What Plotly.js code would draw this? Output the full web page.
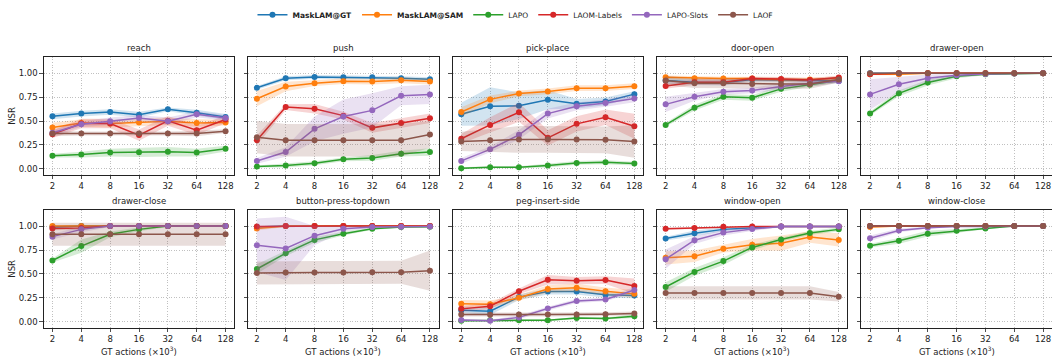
<!DOCTYPE html>
<html>
<head>
<meta charset="utf-8">
<script src="https://cdn.plot.ly/plotly-3.0.1.min.js"></script>
<style>html,body{margin:0;padding:0;background:#fff;}#chart{width:1052px;height:356px;}</style>
</head>
<body>
<div id="chart"></div>
<script>
const xs = [2, 4, 8, 16, 32, 64, 128];
const methods = ['<b>MaskLAM@GT</b>', '<b>MaskLAM@SAM</b>', 'LAPO', 'LAOM-Labels', 'LAPO-Slots', 'LAOF'];
const colors = ['#1f77b4', '#ff7f0e', '#2ca02c', '#d62728', '#9467bd', '#8c564b'];
const bandColors = ['rgba(31,119,180,0.2)', 'rgba(255,127,14,0.2)', 'rgba(44,160,44,0.2)', 'rgba(214,39,40,0.2)', 'rgba(148,103,189,0.2)', 'rgba(140,86,75,0.2)'];
const tasks = ['reach', 'push', 'pick-place', 'door-open', 'drawer-open', 'drawer-close', 'button-press-topdown', 'peg-insert-side', 'window-open', 'window-close'];

// rows: MaskLAM@GT, MaskLAM@SAM, LAPO, LAOM-Labels, LAPO-Slots, LAOF
const reachMean = [
  [0.55, 0.578, 0.595, 0.567, 0.623, 0.588, 0.543],
  [0.433, 0.48, 0.474, 0.484, 0.498, 0.48, 0.484],
  [0.138, 0.149, 0.17, 0.173, 0.18, 0.17, 0.211],
  [0.363, 0.474, 0.474, 0.353, 0.502, 0.405, 0.516],
  [0.377, 0.467, 0.498, 0.533, 0.498, 0.571, 0.533],
  [0.37, 0.37, 0.37, 0.37, 0.37, 0.37, 0.394]
];
const reachSd = [
  [0.03, 0.03, 0.03, 0.03, 0.02, 0.03, 0.03],
  [0.05, 0.04, 0.04, 0.04, 0.04, 0.04, 0.03],
  [0.02, 0.03, 0.04, 0.05, 0.05, 0.04, 0.03],
  [0.04, 0.05, 0.05, 0.06, 0.05, 0.05, 0.04],
  [0.03, 0.03, 0.04, 0.03, 0.04, 0.03, 0.03],
  [0.03, 0.02, 0.02, 0.02, 0.02, 0.03, 0.02]
];
const pushMean = [
  [0.848, 0.948, 0.962, 0.958, 0.958, 0.948, 0.938],
  [0.734, 0.862, 0.896, 0.917, 0.913, 0.927, 0.913],
  [0.024, 0.035, 0.059, 0.10, 0.114, 0.159, 0.176],
  [0.30, 0.647, 0.63, 0.557, 0.429, 0.481, 0.529],
  [0.083, 0.176, 0.419, 0.547, 0.612, 0.765, 0.779],
  [0.332, 0.30, 0.30, 0.30, 0.30, 0.30, 0.36]
];
const pushSd = [
  [0.02, 0.02, 0.02, 0.02, 0.02, 0.02, 0.02],
  [0.08, 0.05, 0.03, 0.03, 0.03, 0.03, 0.03],
  [0.01, 0.02, 0.02, 0.02, 0.03, 0.03, 0.04],
  [0.05, 0.03, 0.05, 0.04, 0.05, 0.05, 0.05],
  [0.03, 0.05, 0.13, 0.18, 0.18, 0.1, 0.1],
  [0.17, 0.17, 0.17, 0.17, 0.17, 0.17, 0.14]
];
const pickMean = [
  [0.571, 0.654, 0.661, 0.723, 0.682, 0.706, 0.782],
  [0.595, 0.727, 0.789, 0.81, 0.844, 0.844, 0.865],
  [0.007, 0.017, 0.017, 0.035, 0.062, 0.069, 0.055],
  [0.315, 0.46, 0.592, 0.325, 0.471, 0.54, 0.446],
  [0.083, 0.204, 0.356, 0.578, 0.654, 0.689, 0.737],
  [0.287, 0.30, 0.308, 0.308, 0.308, 0.304, 0.287]
];
const pickSd = [
  [0.12, 0.2, 0.14, 0.1, 0.05, 0.04, 0.03],
  [0.05, 0.04, 0.03, 0.03, 0.03, 0.03, 0.03],
  [0.01, 0.01, 0.01, 0.02, 0.02, 0.02, 0.02],
  [0.05, 0.08, 0.1, 0.08, 0.08, 0.08, 0.13],
  [0.03, 0.03, 0.05, 0.05, 0.04, 0.04, 0.04],
  [0.1, 0.12, 0.14, 0.14, 0.14, 0.14, 0.17]
];
const doorMean = [
  [0.924, 0.907, 0.903, 0.934, 0.93, 0.924, 0.92],
  [0.958, 0.948, 0.945, 0.945, 0.934, 0.934, 0.948],
  [0.46, 0.64, 0.754, 0.744, 0.837, 0.879, 0.924],
  [0.868, 0.907, 0.907, 0.945, 0.941, 0.931, 0.955],
  [0.675, 0.754, 0.806, 0.82, 0.862, 0.896, 0.917],
  [0.924, 0.896, 0.896, 0.889, 0.889, 0.889, 0.934]
];
const doorSd = [
  [0.03, 0.03, 0.03, 0.02, 0.02, 0.02, 0.02],
  [0.02, 0.02, 0.02, 0.02, 0.02, 0.02, 0.02],
  [0.02, 0.03, 0.03, 0.03, 0.03, 0.02, 0.02],
  [0.03, 0.03, 0.03, 0.02, 0.02, 0.02, 0.02],
  [0.08, 0.04, 0.03, 0.03, 0.03, 0.03, 0.02],
  [0.05, 0.05, 0.05, 0.05, 0.05, 0.05, 0.03]
];
const drawerOpenMean = [
  [1.0, 1.0, 1.0, 1.0, 1.0, 1.0, 1.0],
  [0.99, 0.99, 1.0, 1.0, 1.0, 1.0, 1.0],
  [0.579, 0.79, 0.903, 0.969, 0.99, 0.997, 1.0],
  [0.99, 1.0, 1.0, 1.0, 1.0, 1.0, 1.0],
  [0.779, 0.886, 0.948, 0.979, 0.993, 0.997, 1.0],
  [1.0, 1.0, 1.0, 1.0, 1.0, 1.0, 1.0]
];
const drawerOpenSd = [
  [0.005, 0.005, 0.005, 0.005, 0.005, 0.005, 0.0],
  [0.01, 0.01, 0.005, 0.005, 0.0, 0.0, 0.0],
  [0.02, 0.03, 0.03, 0.02, 0.01, 0.005, 0.0],
  [0.01, 0.005, 0.005, 0.0, 0.0, 0.0, 0.0],
  [0.16, 0.08, 0.04, 0.02, 0.01, 0.005, 0.0],
  [0.005, 0.005, 0.0, 0.0, 0.0, 0.0, 0.0]
];
const drawerCloseMean = [
  [0.99, 1.0, 1.0, 1.0, 1.0, 1.0, 1.0],
  [1.0, 1.0, 1.0, 1.0, 1.0, 1.0, 1.0],
  [0.64, 0.791, 0.914, 0.966, 1.0, 1.0, 1.0],
  [0.976, 0.98, 1.0, 1.0, 1.0, 1.0, 1.0],
  [0.89, 0.966, 1.0, 1.0, 1.0, 1.0, 1.0],
  [0.914, 0.914, 0.914, 0.914, 0.914, 0.914, 0.914]
];
const drawerCloseSd = [
  [0.01, 0.005, 0.0, 0.0, 0.0, 0.0, 0.0],
  [0.01, 0.01, 0.0, 0.0, 0.0, 0.0, 0.0],
  [0.02, 0.07, 0.03, 0.02, 0.01, 0.0, 0.0],
  [0.02, 0.02, 0.0, 0.0, 0.0, 0.0, 0.0],
  [0.03, 0.03, 0.01, 0.0, 0.0, 0.0, 0.0],
  [0.12, 0.12, 0.12, 0.12, 0.12, 0.12, 0.12]
];
const buttonMean = [
  [0.99, 1.0, 1.0, 1.0, 1.0, 1.0, 1.0],
  [0.975, 1.0, 1.0, 1.0, 1.0, 1.0, 1.0],
  [0.551, 0.716, 0.856, 0.921, 0.973, 0.99, 0.993],
  [0.997, 1.0, 1.0, 1.0, 1.0, 1.0, 1.0],
  [0.80, 0.767, 0.90, 0.973, 0.99, 0.993, 0.997],
  [0.51, 0.514, 0.514, 0.514, 0.517, 0.517, 0.534]
];
const buttonSd = [
  [0.01, 0.005, 0.0, 0.0, 0.0, 0.0, 0.0],
  [0.02, 0.01, 0.0, 0.0, 0.0, 0.0, 0.0],
  [0.05, 0.03, 0.03, 0.02, 0.01, 0.01, 0.01],
  [0.005, 0.005, 0.0, 0.0, 0.0, 0.0, 0.0],
  [0.28, 0.33, 0.1, 0.03, 0.01, 0.01, 0.0],
  [0.12, 0.12, 0.12, 0.12, 0.12, 0.12, 0.21]
];
const pegMean = [
  [0.12, 0.11, 0.257, 0.315, 0.315, 0.281, 0.274],
  [0.188, 0.182, 0.25, 0.342, 0.356, 0.318, 0.291],
  [0.01, 0.014, 0.014, 0.014, 0.038, 0.034, 0.058],
  [0.134, 0.161, 0.318, 0.438, 0.428, 0.435, 0.373],
  [0.017, 0.01, 0.045, 0.137, 0.216, 0.233, 0.332],
  [0.075, 0.072, 0.075, 0.075, 0.075, 0.079, 0.086]
];
const pegSd = [
  [0.03, 0.04, 0.03, 0.03, 0.03, 0.03, 0.03],
  [0.04, 0.04, 0.03, 0.04, 0.04, 0.04, 0.04],
  [0.01, 0.01, 0.01, 0.01, 0.01, 0.01, 0.02],
  [0.03, 0.03, 0.03, 0.05, 0.04, 0.04, 0.08],
  [0.01, 0.01, 0.02, 0.02, 0.02, 0.02, 0.03],
  [0.02, 0.02, 0.02, 0.02, 0.02, 0.02, 0.02]
];
const windowOpenMean = [
  [0.87, 0.925, 0.966, 0.983, 0.997, 0.997, 0.997],
  [0.668, 0.685, 0.764, 0.805, 0.822, 0.887, 0.856],
  [0.363, 0.521, 0.634, 0.777, 0.86, 0.928, 0.966],
  [0.973, 0.979, 0.993, 0.997, 0.997, 0.997, 0.997],
  [0.654, 0.853, 0.932, 0.969, 0.997, 0.997, 0.997],
  [0.301, 0.301, 0.301, 0.301, 0.301, 0.301, 0.26]
];
const windowOpenSd = [
  [0.02, 0.03, 0.02, 0.01, 0.005, 0.0, 0.0],
  [0.07, 0.06, 0.04, 0.06, 0.08, 0.06, 0.07],
  [0.05, 0.04, 0.04, 0.03, 0.02, 0.02, 0.02],
  [0.01, 0.01, 0.005, 0.0, 0.0, 0.0, 0.0],
  [0.1, 0.04, 0.03, 0.02, 0.01, 0.005, 0.0],
  [0.07, 0.07, 0.07, 0.07, 0.07, 0.07, 0.05]
];
const windowCloseMean = [
  [1.0, 1.0, 1.0, 1.0, 1.0, 1.0, 1.0],
  [0.99, 1.0, 1.0, 1.0, 1.0, 1.0, 1.0],
  [0.795, 0.846, 0.921, 0.952, 0.976, 1.0, 1.0],
  [1.0, 1.0, 1.0, 1.0, 1.0, 1.0, 1.0],
  [0.873, 0.955, 0.983, 0.997, 0.997, 1.0, 1.0],
  [1.0, 1.0, 1.0, 1.0, 1.0, 1.0, 1.0]
];
const windowCloseSd = [
  [0.005, 0.0, 0.0, 0.0, 0.0, 0.0, 0.0],
  [0.01, 0.005, 0.0, 0.0, 0.0, 0.0, 0.0],
  [0.02, 0.03, 0.03, 0.02, 0.01, 0.0, 0.0],
  [0.0, 0.0, 0.0, 0.0, 0.0, 0.0, 0.0],
  [0.03, 0.02, 0.01, 0.0, 0.0, 0.0, 0.0],
  [0.0, 0.0, 0.0, 0.0, 0.0, 0.0, 0.0]
];
const tickVals = [2, 4, 8, 16, 32, 64, 128];
const tickText = ['2', '4', '8', '16', '32', '64', '128'];
const yTickVals = [0, 0.25, 0.5, 0.75, 1.0];
const yTickText = ['0.00', '0.25', '0.50', '0.75', '1.00'];

const allMeans = [reachMean, pushMean, pickMean, doorMean, drawerOpenMean, drawerCloseMean, buttonMean, pegMean, windowOpenMean, windowCloseMean];
const allSds = [reachSd, pushSd, pickSd, doorSd, drawerOpenSd, drawerCloseSd, buttonSd, pegSd, windowOpenSd, windowCloseSd];

const W = 1052, H = 356;
const FONT = 'DejaVu Sans, Liberation Sans, sans-serif';
const pitch = 204.4, pw = 190.4, left0 = 43.8;
const rowTop = [52.6, 207.6], ph = 119.6;

const data = [];
const layout = {
  width: W, height: H,
  margin: {l: 0, r: 0, t: 0, b: 0},
  paper_bgcolor: '#fff', plot_bgcolor: '#fff',
  font: {family: FONT, size: 8.5, color: '#222'},
  showlegend: true,
  legend: {orientation: 'h', x: 0.49, xanchor: 'center', y: 1 - 10 / H, yanchor: 'middle',
           font: {family: FONT, size: 7.5, color: '#222'}, itemwidth: 30, tracegroupgap: 0},
  annotations: []
};

for (let k = 0; k < 10; k++) {
  const row = Math.floor(k / 5), col = k % 5;
  const ax = k + 1;
  const xname = 'xaxis' + (ax === 1 ? '' : ax);
  const yname = 'yaxis' + (ax === 1 ? '' : ax);
  const xref = 'x' + (ax === 1 ? '' : ax);
  const yref = 'y' + (ax === 1 ? '' : ax);
  const l = left0 + col * pitch;
  const t = rowTop[row];
  layout[xname] = {
    domain: [l / W, (l + pw) / W], anchor: yref, type: 'log',
    range: [Math.log10(2) * 0.7, Math.log10(2) * 7.3],
    tickvals: tickVals, ticktext: tickText, ticks: 'outside', ticklen: 3.5, tickwidth: 0.8,
    tickcolor: '#222', showline: true, mirror: true, linecolor: '#222', linewidth: 1,
    showgrid: true, gridcolor: '#b0b0b0', griddash: '1px,1.6px', gridwidth: 0.8, zeroline: false,
    tickfont: {family: FONT, size: 8.5, color: '#222'}, fixedrange: true
  };
  layout[yname] = {
    domain: [1 - (t + ph) / H, 1 - t / H], anchor: xref,
    range: [-0.062, 1.172], tickvals: yTickVals, ticktext: yTickText,
    showticklabels: col === 0, ticks: 'outside', ticklen: 3.5, tickwidth: 0.8, tickcolor: '#222',
    showline: true, mirror: true, linecolor: '#222', linewidth: 1,
    showgrid: true, gridcolor: '#b0b0b0', griddash: '1px,1.6px', gridwidth: 0.8, zeroline: false,
    tickfont: {family: FONT, size: 8.5, color: '#222'}, fixedrange: true
  };
  layout.annotations.push({
    text: tasks[k], xref: 'paper', yref: 'paper', x: (l + pw / 2) / W, y: 1 - t / H,
    xanchor: 'center', yanchor: 'bottom', yshift: 2, showarrow: false,
    font: {family: FONT, size: 8.5, color: '#222'}
  });
  if (row === 1) {
    layout.annotations.push({
      text: 'GT actions (×10<sup>3</sup>)', xref: 'paper', yref: 'paper', x: (l + pw / 2) / W, y: 1 - 351 / H,
      xanchor: 'center', yanchor: 'middle', showarrow: false,
      font: {family: FONT, size: 8.5, color: '#222'}
    });
  }
  if (col === 0) {
    layout.annotations.push({
      text: 'NSR', xref: 'paper', yref: 'paper', x: 12 / W, y: 1 - (t + ph / 2) / H,
      xanchor: 'center', yanchor: 'middle', textangle: -90, showarrow: false,
      font: {family: FONT, size: 8.5, color: '#222'}
    });
  }
  const means = allMeans[k], sds = allSds[k];
  for (let m = 0; m < 6; m++) {
    const up = means[m].map((v, i) => v + sds[m][i]);
    const lo = means[m].map((v, i) => v - sds[m][i]);
    data.push({
      x: xs.concat(xs.slice().reverse()), y: up.concat(lo.slice().reverse()),
      xaxis: xref, yaxis: yref, type: 'scatter', mode: 'lines', fill: 'toself',
      fillcolor: bandColors[m], line: {width: 0, color: 'rgba(0,0,0,0)'},
      hoverinfo: 'skip', showlegend: false
    });
    data.push({
      x: xs, y: means[m], xaxis: xref, yaxis: yref, type: 'scatter', mode: 'lines+markers',
      name: methods[m], legendgroup: methods[m], showlegend: k === 0,
      line: {color: colors[m], width: 1.5}, marker: {color: colors[m], size: 6}
    });
  }
}

Plotly.newPlot('chart', data, layout, {staticPlot: true, displayModeBar: false});
</script>
</body>
</html>
